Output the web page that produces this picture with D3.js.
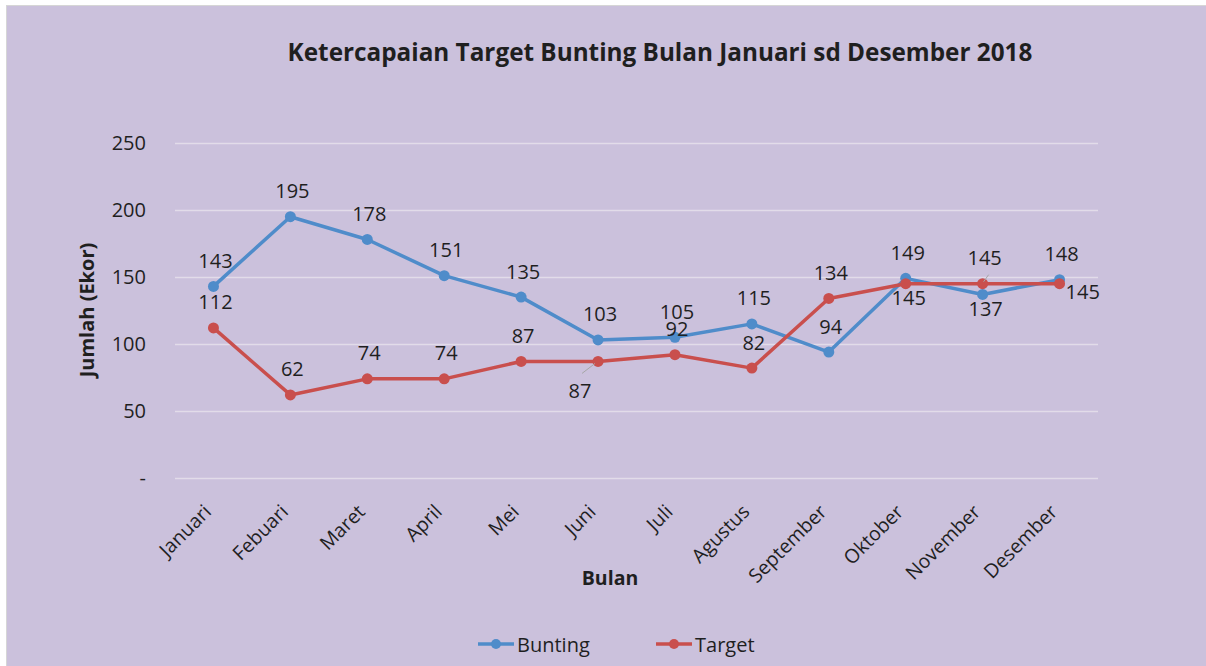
<!DOCTYPE html>
<html>
<head>
<meta charset="utf-8">
<script src="https://cdn.jsdelivr.net/npm/d3@7"></script>
<style>
  body { margin: 0; background: #fff; }
  svg text { font-family: "Open Sans", sans-serif; fill: #1f1f1f; }
</style>
</head>
<body>
<div id="chart"></div>
<script>
// Chart data
var months  = ["Januari", "Febuari", "Maret", "April", "Mei", "Juni", "Juli", "Agustus", "September", "Oktober", "November", "Desember"];
var bunting = [143, 195, 178, 151, 135, 103, 105, 115, 94, 149, 137, 148];
var target  = [112, 62, 74, 74, 87, 87, 92, 82, 134, 145, 145, 145];
var yTicks  = [0, 50, 100, 150, 200, 250];

// Where each data label sits relative to its point
var buntingPlace = ["above", "above", "above", "above", "above", "above", "above", "above", "above", "above", "below", "above"];
var targetPlace  = ["above", "above", "above", "above", "above", "belowleft", "above", "above", "above", "below", "above", "right"];

(function() {
  var
  W = 1206, H = 666,
  plot = { left: 175, right: 1098, top: 143, bottom: 478 },
  blue = "#4f8cca",
  red  = "#c94f4d"
  ;

  var svg = d3.select("#chart").append("svg")
      .attr("width", W)
      .attr("height", H);

  // Chart area background
  svg.append("rect")
    .attr("x", 6.5).attr("y", 5.5)
    .attr("width", W).attr("height", H)
    .attr("fill", "#cbc1dc")
    .attr("stroke", "#d6d6d6");

  var x = d3.scalePoint()
      .domain(months)
      .range([plot.left, plot.right])
      .padding(0.5);

  var y = d3.scaleLinear()
      .domain([0, 250])
      .range([plot.bottom, plot.top]);

  // Title
  svg.append("text")
    .attr("x", 660).attr("y", 61)
    .attr("text-anchor", "middle")
    .style("font-weight", "bold")
    .style("font-size", "24.3px")
    .text("Ketercapaian Target Bunting Bulan Januari sd Desember 2018");

  // Gridlines + y axis labels
  var yAxis = d3.axisLeft(y)
      .tickValues(yTicks)
      .tickSize(-(plot.right - plot.left))
      .tickPadding(29)
      .tickFormat(function(d) { return d === 0 ? "-" : d; });

  var gy = svg.append("g")
      .attr("transform", "translate(" + plot.left + ",0)")
      .call(yAxis);
  gy.select(".domain").remove();
  gy.selectAll(".tick line").attr("stroke", "#e2dce9").attr("stroke-width", 1.5);
  gy.selectAll(".tick text")
    .style("font-size", "20px")
    .attr("fill", "#1f1f1f");

  // x axis labels (rotated)
  var gx = svg.append("g");
  gx.selectAll("text")
    .data(months)
    .enter().append("text")
      .attr("transform", function(d) { return "translate(" + (x(d) - 1) + ",513) rotate(-45)"; })
      .attr("text-anchor", "end")
      .style("font-size", "19.5px")
      .text(function(d) { return d; });

  // Axis titles
  svg.append("text")
    .attr("transform", "translate(94,310) rotate(-90)")
    .attr("text-anchor", "middle")
    .style("font-weight", "bold")
    .style("font-size", "20px")
    .text("Jumlah (Ekor)");

  svg.append("text")
    .attr("x", 610).attr("y", 585)
    .attr("text-anchor", "middle")
    .style("font-weight", "bold")
    .style("font-size", "19.5px")
    .text("Bulan");

  var line = d3.line()
      .x(function(d, i) { return x(months[i]); })
      .y(function(d) { return y(d); });

  function series(values, color) {
    var g = svg.append("g");
    g.append("path")
      .datum(values)
      .attr("d", line)
      .attr("fill", "none")
      .attr("stroke", color)
      .attr("stroke-width", 3.5)
      .attr("stroke-linejoin", "round");
    g.selectAll("circle")
      .data(values)
      .enter().append("circle")
        .attr("cx", function(d, i) { return x(months[i]); })
        .attr("cy", function(d) { return y(d); })
        .attr("r", 5.5)
        .attr("fill", color);
  }

  series(bunting, blue);
  series(target, red);

  // Data labels
  function labels(values, places) {
    var g = svg.append("g");
    values.forEach(function(v, i) {
      var px = x(months[i]), py = y(v), p = places[i];
      var t = g.append("text")
        .attr("dominant-baseline", "central")
        .attr("text-anchor", "middle")
        .style("font-size", "20px")
        .text(v);
      if (p === "above") {
        t.attr("x", px + 2).attr("y", py - 26);
      } else if (p === "below") {
        t.attr("x", px + 3).attr("y", py + 14);
      } else if (p === "right") {
        t.attr("x", px + 6).attr("y", py + 8).attr("text-anchor", "start");
      } else if (p === "belowleft") {
        t.attr("x", px - 18).attr("y", py + 29);
        g.append("line")
          .attr("x1", px - 16).attr("y1", py + 12)
          .attr("x2", px - 3).attr("y2", py + 2)
          .attr("stroke", "#a6a6a6").attr("stroke-width", 1);
      }
    });
  }

  labels(bunting, buntingPlace);
  labels(target, targetPlace);

  // small leader for November target label
  svg.append("line")
    .attr("x1", x("November") + 1).attr("y1", y(target[10]) - 2)
    .attr("x2", x("November") + 6).attr("y2", y(target[10]) - 9)
    .attr("stroke", "#a6a6a6").attr("stroke-width", 1);

  // Legend
  var legend = svg.append("g");
  [["Bunting", blue, 478], ["Target", red, 656]].forEach(function(l) {
    var item = legend.append("g").attr("transform", "translate(" + l[2] + ",644)");
    item.append("line")
      .attr("x1", 0).attr("x2", 36)
      .attr("stroke", l[1]).attr("stroke-width", 3.5);
    item.append("circle")
      .attr("cx", 18).attr("r", 5).attr("fill", l[1]);
    item.append("text")
      .attr("x", 39)
      .attr("dominant-baseline", "central")
      .style("font-size", "20px")
      .text(l[0]);
  });
})();
</script>
</body>
</html>
